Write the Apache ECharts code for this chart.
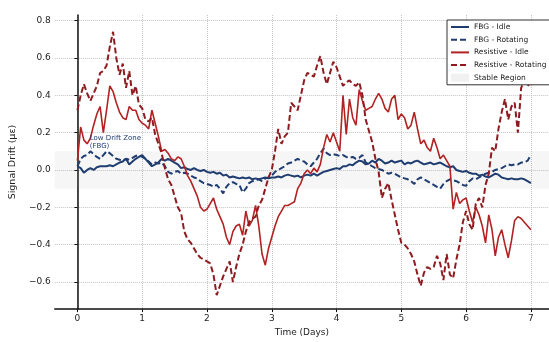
<!DOCTYPE html>
<html><head><meta charset="utf-8">
<script src="https://cdn.jsdelivr.net/npm/echarts@6/dist/echarts.min.js"></script>
<style>html,body{margin:0;padding:0;background:#fff}#c{width:549px;height:342px}</style>
</head><body><div id="c"></div>
<script>
const dayStep = 0.05;
const xTicks = [0, 1, 2, 3, 4, 5, 6, 7];
const yTicks = [-0.6, -0.4, -0.2, 0, 0.2, 0.4, 0.6, 0.8];
const seriesNames = ['FBG - Idle', 'FBG - Rotating', 'Resistive - Idle', 'Resistive - Rotating', 'Stable Region'];
const stableBand = [-0.1, 0.1];

const fbgIdle = [
  0.02,0.01,-0.015,0.00,0.01,0.00,0.015,0.02,0.02,0.02,
  0.025,0.02,0.03,0.04,0.045,0.06,0.03,0.045,0.06,0.07,
  0.08,0.06,0.04,0.02,0.03,0.04,0.06,0.05,0.06,0.05,
  0.04,0.03,0.01,0.015,0.005,0.00,0.01,0.00,-0.005,0.00,
  -0.01,-0.015,-0.01,-0.02,-0.015,-0.03,-0.025,-0.04,-0.035,-0.04,
  -0.045,-0.04,-0.045,-0.04,-0.05,-0.045,-0.05,-0.045,-0.04,-0.045,
  -0.04,-0.04,-0.035,-0.04,-0.03,-0.025,-0.03,-0.035,-0.03,-0.04,
  -0.03,-0.025,-0.03,-0.02,-0.03,-0.02,-0.01,-0.005,0.00,0.005,
  0.01,0.005,0.02,0.02,0.03,0.025,0.04,0.05,0.045,0.03,
  0.035,0.05,0.04,0.06,0.05,0.035,0.04,0.05,0.04,0.045,
  0.05,0.03,0.04,0.035,0.045,0.05,0.04,0.03,0.035,0.04,
  0.03,0.035,0.04,0.03,0.02,0.015,0.02,0.00,-0.005,-0.01,
  -0.005,-0.015,-0.02,-0.02,-0.03,-0.025,-0.035,-0.04,-0.03,-0.02,
  -0.025,-0.04,-0.045,-0.05,-0.045,-0.05,-0.05,-0.045,-0.05,-0.06,
  -0.07
];
const fbgRotating = [
  0.02,0.06,0.075,0.08,0.10,0.085,0.07,0.06,0.08,0.10,
  0.09,0.075,0.06,0.055,0.05,0.06,0.055,0.065,0.075,0.08,
  0.07,0.06,0.045,0.03,0.04,0.035,0.04,0.02,-0.01,-0.02,
  -0.01,-0.005,-0.02,-0.015,-0.02,-0.03,-0.04,-0.045,-0.06,-0.07,
  -0.075,-0.08,-0.09,-0.08,-0.10,-0.125,-0.09,-0.07,-0.065,-0.075,
  -0.08,-0.12,-0.10,-0.07,-0.06,-0.055,-0.05,-0.06,-0.045,-0.04,
  -0.03,-0.01,0.00,0.01,0.02,0.035,0.04,0.05,0.06,0.05,
  0.045,0.03,0.02,0.04,0.06,0.09,0.115,0.09,0.08,0.085,
  0.08,0.075,0.08,0.07,0.065,0.07,0.06,0.065,0.08,0.04,
  0.03,0.02,0.01,0.005,0.00,-0.01,-0.02,-0.015,-0.02,-0.03,
  -0.04,-0.045,-0.05,-0.06,-0.075,-0.05,-0.04,-0.05,-0.06,-0.07,
  -0.08,-0.09,-0.10,-0.075,-0.06,-0.05,-0.055,-0.06,-0.07,-0.08,
  -0.085,-0.06,-0.045,-0.05,-0.04,-0.03,-0.02,-0.015,-0.01,0.00,
  0.005,0.01,0.02,0.03,0.025,0.03,0.03,0.04,0.04,0.05,
  0.08
];
const resistiveIdle = [
  0.05,0.23,0.16,0.14,0.17,0.24,0.30,0.34,0.20,0.32,
  0.45,0.42,0.36,0.31,0.28,0.27,0.34,0.32,0.32,0.27,
  0.25,0.24,0.22,0.32,0.25,0.18,0.10,0.11,0.09,0.06,
  0.05,0.07,0.06,0.02,-0.03,-0.06,-0.10,-0.14,-0.20,-0.22,
  -0.21,-0.18,-0.15,-0.21,-0.25,-0.29,-0.36,-0.40,-0.33,-0.30,
  -0.29,-0.35,-0.22,-0.30,-0.27,-0.19,-0.30,-0.45,-0.51,-0.42,
  -0.36,-0.30,-0.25,-0.22,-0.19,-0.19,-0.18,-0.17,-0.10,-0.07,
  -0.02,0.00,-0.02,0.01,-0.01,0.03,0.12,0.19,0.15,0.20,
  0.15,0.10,0.40,0.19,0.38,0.28,0.24,0.43,0.37,0.32,
  0.33,0.34,0.38,0.41,0.38,0.33,0.31,0.38,0.40,0.27,
  0.30,0.28,0.22,0.24,0.31,0.22,0.14,0.16,0.12,0.10,
  0.17,0.12,0.06,0.08,0.05,0.02,-0.21,-0.12,-0.18,-0.16,
  -0.15,-0.22,-0.28,-0.20,-0.24,-0.30,-0.39,-0.24,-0.32,-0.46,
  -0.36,-0.32,-0.40,-0.47,-0.38,-0.27,-0.25,-0.26,-0.28,-0.30,
  -0.32
];
const resistiveRotating = [
  0.32,0.40,0.46,0.41,0.37,0.41,0.45,0.52,0.53,0.56,
  0.66,0.74,0.60,0.51,0.57,0.44,0.53,0.40,0.45,0.35,
  0.33,0.27,0.26,0.28,0.19,0.14,0.09,0.01,-0.05,-0.08,
  -0.14,-0.20,-0.23,-0.33,-0.37,-0.39,-0.42,-0.45,-0.47,-0.48,
  -0.49,-0.50,-0.56,-0.67,-0.62,-0.57,-0.53,-0.49,-0.60,-0.52,
  -0.45,-0.40,-0.33,-0.28,-0.26,-0.25,-0.19,-0.16,-0.10,-0.04,
  0.00,0.10,0.22,0.14,0.18,0.20,0.36,0.34,0.32,0.40,
  0.48,0.52,0.51,0.50,0.56,0.61,0.52,0.46,0.52,0.58,
  0.55,0.50,0.45,0.47,0.48,0.46,0.45,0.47,0.40,0.27,
  0.21,0.15,0.06,-0.01,-0.15,-0.10,-0.07,-0.16,-0.24,-0.32,
  -0.39,-0.40,-0.42,-0.45,-0.49,-0.56,-0.62,-0.55,-0.52,-0.53,
  -0.52,-0.46,-0.50,-0.59,-0.45,-0.56,-0.58,-0.48,-0.40,-0.28,
  -0.22,-0.29,-0.32,-0.18,-0.15,-0.20,-0.08,-0.02,0.12,0.10,
  0.22,0.31,0.38,0.27,0.34,0.36,0.20,0.44,0.48,0.45,
  0.47
];

const days = fbgIdle.map((_, i) => +(i * dayStep).toFixed(2));
const pairs = arr => arr.map((v, i) => [days[i], v]);

const NAVY = '#1f3d70';
const RED = '#b22222';
const DRED = '#8e1b1f';
const FONT = 'DejaVu Sans';
const BAND = 'rgba(150,150,150,0.09)';

const chart = echarts.init(document.getElementById('c'), null, { renderer: 'canvas' });
chart.setOption({
  animation: false,
  backgroundColor: '#fff',
  textStyle: { fontFamily: FONT },
  grid: { left: 51, right: 0, top: 15, bottom: 25, containLabel: false },
  xAxis: {
    type: 'value', min: -0.35, max: 7.28,
    name: 'Time (Days)', nameLocation: 'middle', nameGap: 16,
    nameTextStyle: { fontFamily: FONT, fontSize: 9, color: '#222' },
    axisLine: { show: true, onZero: false, lineStyle: { color: '#111', width: 1.5 } },
    axisTick: { show: true, length: 3, customValues: xTicks, lineStyle: { color: '#111' } },
    axisLabel: { customValues: xTicks, fontFamily: FONT, fontSize: 9, color: '#222', margin: 5 },
    splitLine: { show: true, lineStyle: { color: '#c4c4c4', type: 'dotted', width: 1 } }
  },
  yAxis: {
    type: 'value', min: -0.745, max: 0.83,
    name: 'Signal Drift (\u03bc\u03b5)', nameLocation: 'middle', nameGap: 30, nameRotate: 90,
    nameTextStyle: { fontFamily: FONT, fontSize: 9.5, color: '#222' },
    axisLine: { show: true, lineStyle: { color: '#111', width: 1.5 } },
    axisTick: { show: true, length: 3, customValues: yTicks, lineStyle: { color: '#111' } },
    axisLabel: {
      customValues: yTicks, fontFamily: FONT, fontSize: 9, color: '#222', margin: 4,
      formatter: v => (v < -1e-9 ? '\u2212' : '') + Math.abs(v).toFixed(1)
    },
    splitLine: { show: true, lineStyle: { color: '#c4c4c4', type: 'dotted', width: 1 } }
  },
  legend: {
    orient: 'vertical', left: 447, top: 20,
    backgroundColor: '#fff', borderColor: '#333', borderWidth: 1, borderRadius: 0,
    padding: [3, 4, 3, 3], itemWidth: 18, itemHeight: 8, itemGap: 4.7,
    itemStyle: { opacity: 0 },
    textStyle: { fontFamily: FONT, fontSize: 7.5, color: '#222', lineHeight: 8 },
    data: [
      { name: seriesNames[0] }, { name: seriesNames[1] }, { name: seriesNames[2] }, { name: seriesNames[3] },
      { name: seriesNames[4], icon: 'rect', itemStyle: { color: 'rgba(160,160,160,0.15)', opacity: 1 } }
    ]
  },
  series: [
    {
      name: seriesNames[4], type: 'line', data: [], symbol: 'none',
      itemStyle: { color: 'rgba(160,160,160,0.15)' }, lineStyle: { width: 0 },
      markArea: {
        silent: true, itemStyle: { color: BAND },
        data: [[{ yAxis: stableBand[0] }, { yAxis: stableBand[1] }]]
      }
    },
    {
      name: seriesNames[0], type: 'line', data: pairs(fbgIdle), symbol: 'none',
      lineStyle: { color: NAVY, width: 2 }, itemStyle: { color: NAVY },
      markPoint: {
        symbolSize: 0, silent: true,
        data: [{ coord: [0.19, 0.19], value: 'Low Drift Zone\n(FBG)' }],
        label: {
          show: true, position: 'inside', formatter: 'Low Drift Zone\n(FBG)',
          align: 'left', verticalAlign: 'top', fontFamily: FONT, fontSize: 7, color: NAVY, lineHeight: 8
        }
      }
    },
    {
      name: seriesNames[1], type: 'line', data: pairs(fbgRotating), symbol: 'none',
      lineStyle: { color: NAVY, width: 2, type: [6, 3] }, itemStyle: { color: NAVY }
    },
    {
      name: seriesNames[2], type: 'line', data: pairs(resistiveIdle), symbol: 'none',
      lineStyle: { color: RED, width: 1.6 }, itemStyle: { color: RED }
    },
    {
      name: seriesNames[3], type: 'line', data: pairs(resistiveRotating), symbol: 'none',
      lineStyle: { color: DRED, width: 2, type: [6, 3] }, itemStyle: { color: DRED }
    }
  ]
});
</script>
</body></html>
